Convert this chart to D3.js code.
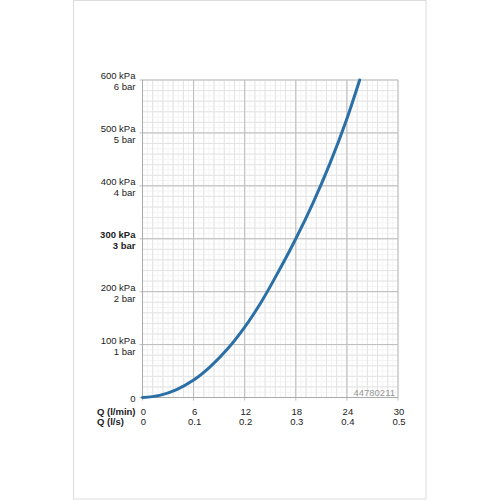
<!DOCTYPE html>
<html><head><meta charset="utf-8">
<script src="https://cdn.jsdelivr.net/npm/d3@7"></script>
<style>body{margin:0;background:#fff}svg{display:block;font-family:"Liberation Sans",Arial,sans-serif}</style>
</head><body><svg id="c" width="500" height="500"></svg>
<script>
const flowLpm = [0, 2, 4, 6, 8, 10, 12, 14, 16, 18, 20, 22, 24, 25.5];
const pressureKPa = [0, 4, 15, 33, 59, 92, 133, 182, 239, 300, 367, 442, 527, 600];
const xTicksLpm = [0, 6, 12, 18, 24, 30];
const xTicksLps = ["0", "0.1", "0.2", "0.3", "0.4", "0.5"];
const yTicks = [100, 200, 300, 400, 500, 600];
const yLabelsKPa = ["100 kPa", "200 kPa", "300 kPa", "400 kPa", "500 kPa", "600 kPa"];
const yLabelsBar = ["1 bar", "2 bar", "3 bar", "4 bar", "5 bar", "6 bar"];
const boldTick = 300;
const codeLabel = "44780211";

const svg = d3.select("#c");
const L = 142.5, R = 398, T = 80, B = 397.5;
const x = d3.scaleLinear().domain([0, 30]).range([L, R]);
const y = d3.scaleLinear().domain([0, 600]).range([B, T]);
const fs = 9.5;

// page frame
svg.append("rect").attr("x", 73.5).attr("y", 0.5).attr("width", 352.5).attr("height", 498.5)
  .attr("fill", "none").attr("stroke", "#dcdcdc");

const g = svg.append("g");
d3.range(0, 30.01, 0.6).forEach(v => g.append("line").attr("x1", x(v)).attr("x2", x(v)).attr("y1", T).attr("y2", B).attr("stroke", "#f4f4f4"));
d3.range(0, 600.1, 10).forEach(v => g.append("line").attr("y1", y(v)).attr("y2", y(v)).attr("x1", L).attr("x2", R).attr("stroke", "#f4f4f4"));
d3.range(0, 30.01, 1.2).forEach(v => g.append("line").attr("x1", x(v)).attr("x2", x(v)).attr("y1", T).attr("y2", B).attr("stroke", "#e4e4e4"));
d3.range(0, 600.1, 20).forEach(v => g.append("line").attr("y1", y(v)).attr("y2", y(v)).attr("x1", L).attr("x2", R).attr("stroke", "#e4e4e4"));
xTicksLpm.forEach(v => g.append("line").attr("x1", x(v)).attr("x2", x(v)).attr("y1", T).attr("y2", B + 3).attr("stroke", "#bdbdbd"));
[0].concat(yTicks).forEach(v => g.append("line").attr("y1", y(v)).attr("y2", y(v)).attr("x1", L - 3).attr("x2", R).attr("stroke", "#bdbdbd"));
g.append("line").attr("x1", L).attr("x2", L).attr("y1", T).attr("y2", B).attr("stroke", "#aaa");
g.append("line").attr("x1", L).attr("x2", R).attr("y1", B).attr("y2", B).attr("stroke", "#aaa");

// curve
const pts = flowLpm.map((q, i) => [q, pressureKPa[i]]);
svg.append("path").datum(pts)
  .attr("d", d3.line().x(d => x(d[0])).y(d => y(d[1])).curve(d3.curveCatmullRom))
  .attr("fill", "none").attr("stroke", "#2b6fa7").attr("stroke-width", 3).attr("stroke-linecap", "round");

// y labels
yTicks.forEach((v, i) => {
  const bold = v === boldTick ? "bold" : "normal";
  svg.append("text").attr("x", 135.5).attr("y", y(v) - 1).attr("text-anchor", "end")
    .attr("font-size", fs).attr("font-weight", bold).attr("fill", "#222").text(yLabelsKPa[i]);
  svg.append("text").attr("x", 135.5).attr("y", y(v) + 10).attr("text-anchor", "end")
    .attr("font-size", fs).attr("font-weight", bold).attr("fill", "#222").text(yLabelsBar[i]);
});
svg.append("text").attr("x", 135.5).attr("y", B + 4).attr("text-anchor", "end")
  .attr("font-size", fs).attr("fill", "#222").text("0");

// x labels
svg.append("text").attr("x", 97).attr("y", 414.5).attr("font-size", fs).attr("font-weight", "bold").attr("fill", "#222").text("Q (l/min)");
svg.append("text").attr("x", 97).attr("y", 424.5).attr("font-size", fs).attr("font-weight", "bold").attr("fill", "#222").text("Q (l/s)");
xTicksLpm.forEach((v, i) => {
  svg.append("text").attr("x", x(v) + 1).attr("y", 414.5).attr("text-anchor", "middle").attr("font-size", fs).attr("fill", "#222").text(v);
  svg.append("text").attr("x", x(v) + 1).attr("y", 424.5).attr("text-anchor", "middle").attr("font-size", fs).attr("fill", "#222").text(xTicksLps[i]);
});

svg.append("text").attr("x", 395).attr("y", 396).attr("text-anchor", "end").attr("font-size", 9.5).attr("fill", "#999").text(codeLabel);
</script></body></html>
